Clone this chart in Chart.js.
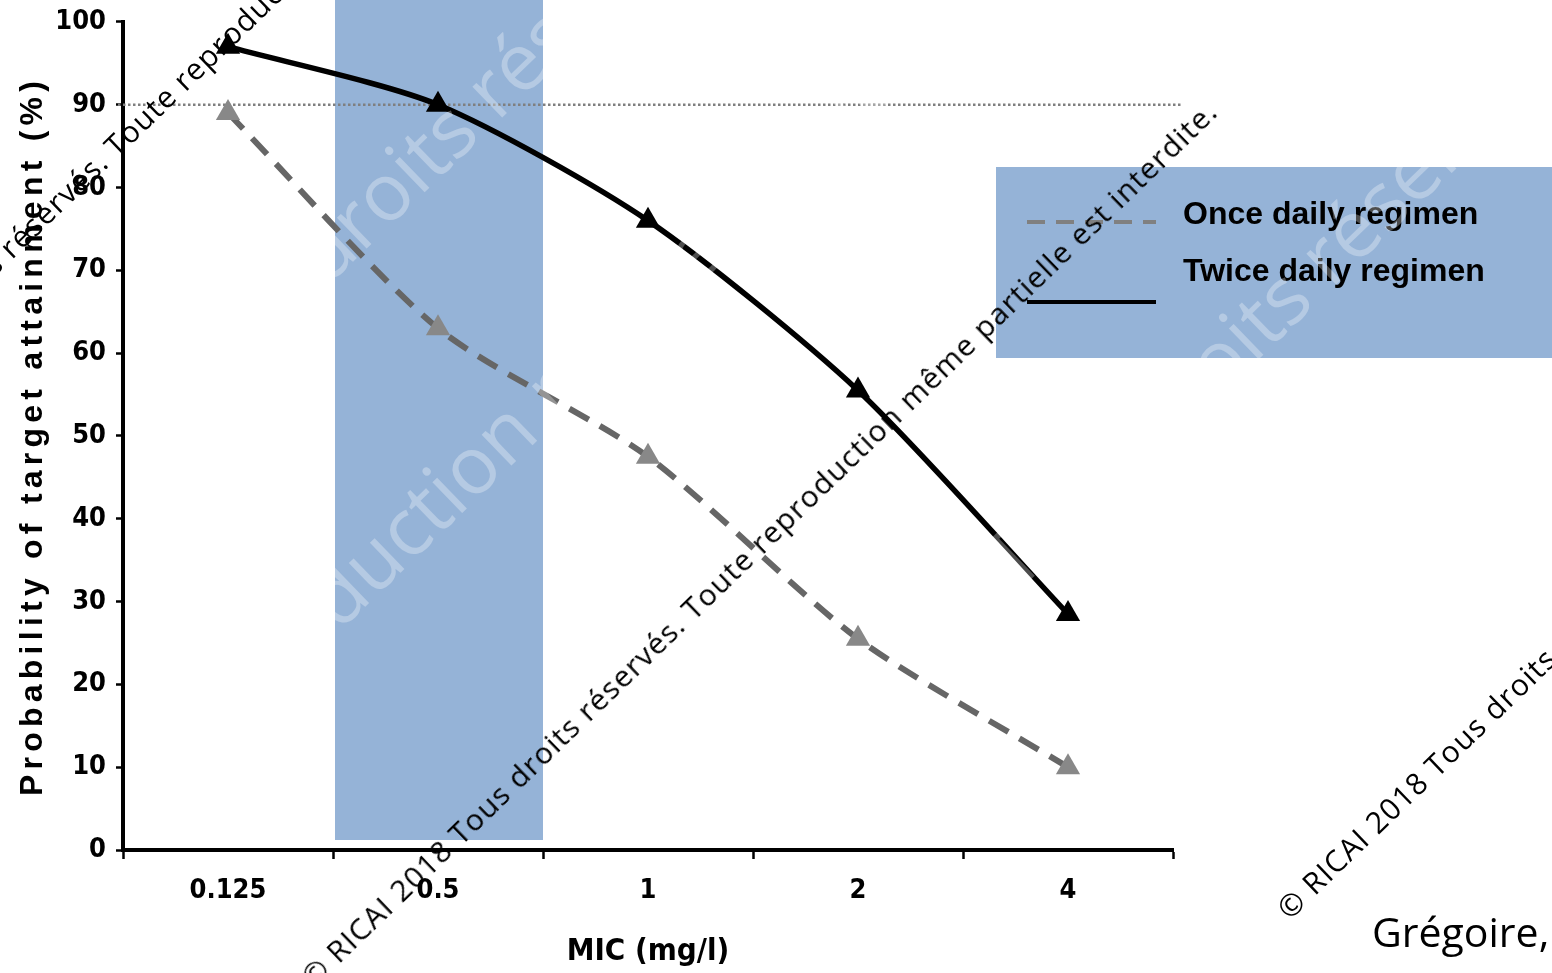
<!DOCTYPE html>
<html lang="en">
<head>
    <meta charset="UTF-8" />
    <title>Probability of target attainment</title>
    <script src="https://cdn.jsdelivr.net/npm/chart.js"></script>
    <style>
        html, body { margin: 0; padding: 0; background: #fff; overflow: hidden; }
        #wrap { position: relative; width: 1552px; height: 973px; overflow: hidden; }
        #wrap canvas { position: absolute; left: 0; top: 0; }
        .wm {
            position: absolute;
            font-family: "Open Sans", sans-serif;
            font-size: 30px;
            line-height: 30px;
            height: 30px;
            letter-spacing: 1.15px;
            color: #000;
            white-space: nowrap;
            transform-origin: 0 50%;
            transform: rotate(-44deg);
        }
        .ghost {
            position: absolute;
            font-family: "Open Sans", sans-serif;
            font-size: 80px;
            line-height: 80px;
            height: 80px;
            color: rgba(255, 255, 255, 0.3);
            white-space: nowrap;
            transform-origin: 0 50%;
            transform: rotate(-44deg);
        }
        #author {
            position: absolute;
            left: 1372px;
            top: 903px;
            font-family: "Open Sans", sans-serif;
            font-size: 41px;
            line-height: 56px;
            color: #000;
            white-space: nowrap;
        }
    </style>
</head>
<body>
    <div id="wrap">
        <canvas id="mainChart" width="1552" height="973"></canvas>
        <div class="ghost" style="left:161px; top:364px;">Tous droits réservés</div>
        <div class="ghost" style="left:168px; top:714px;">reproduction même partielle</div>
        <div class="ghost" style="left:995px; top:531px;">Tous droits réservés</div>
        <div class="wm" style="left:-271px; top:503px;">© RICAI 2018 Tous droits réservés. Toute reproduction même partielle est interdite.</div>
        <div class="wm" style="left:306px; top:966px;">© RICAI 2018 Tous droits réservés. Toute reproduction même partielle est interdite.</div>
        <div class="wm" style="left:1282px; top:898px;">© RICAI 2018 Tous droits réservés. Toute reproduction même partielle est interdite.</div>
        <div id="author">Grégoire,</div>
    </div>

    <script>
        const categories = ['0.125', '0.5', '1', '2', '4'];
        const onceDaily = [89, 63, 47.5, 25.5, 10];
        const twiceDaily = [97, 90, 76, 55.5, 28.5];
        const yMin = 0;
        const yMax = 100;
        const yStep = 10;
        const targetLevel = 90;
        const highlightCategory = '0.5';
        const yTitle = 'Probability of target attainment (%)';
        const xTitle = 'MIC (mg/l)';

        const BAND_BLUE = '#95B3D7';
        const narrow = "'DejaVu Sans Condensed', 'Arial Narrow', sans-serif";
        const xTickFont = { family: narrow, size: 27, weight: 'bold' };
        // tighter line height so the 100 label doesn't push the plot down
        const yTickFont = { family: narrow, size: 27, weight: 'bold', lineHeight: 0.88 };

        // shaded column behind the chosen MIC + dotted target line
        const bandPlugin = {
            id: 'band',
            beforeDatasetsDraw(chart) {
                const ctx = chart.ctx;
                const x = chart.scales.x;
                const y = chart.scales.y;
                const idx = categories.indexOf(highlightCategory);
                const half = (x.getPixelForValue(1) - x.getPixelForValue(0)) / 2;
                const cx = x.getPixelForValue(idx);
                ctx.save();
                ctx.fillStyle = BAND_BLUE;
                ctx.fillRect(cx - half + 2, 0, half * 2 - 2, y.getPixelForValue(yMin) - 10);

                const ty = y.getPixelForValue(targetLevel);
                ctx.strokeStyle = '#7f7f7f';
                ctx.lineWidth = 2.5;
                ctx.setLineDash([2.5, 2.5]);
                ctx.beginPath();
                ctx.moveTo(x.left - 5, ty);
                ctx.lineTo(x.right + 10, ty);
                ctx.stroke();
                ctx.restore();
            }
        };

        // y title with wide letter spacing, drawn by hand
        const yTitlePlugin = {
            id: 'yTitle',
            afterDraw(chart) {
                const ctx = chart.ctx;
                const y = chart.scales.y;
                ctx.save();
                ctx.font = "bold 32px 'Liberation Sans', Arial, sans-serif";
                const plain = ctx.measureText(yTitle).width;
                ctx.letterSpacing = Math.max(0, (715 - plain) / (yTitle.length - 1)).toFixed(2) + 'px';
                ctx.translate(33, (y.top + y.bottom) / 2);
                ctx.rotate(-Math.PI / 2);
                ctx.fillStyle = '#000';
                ctx.textAlign = 'center';
                ctx.textBaseline = 'middle';
                ctx.fillText(yTitle, 0, 0);
                ctx.restore();
            }
        };

        // boxed legend at the right
        const legendPlugin = {
            id: 'boxLegend',
            afterDraw(chart) {
                const ctx = chart.ctx;
                const ds = chart.data.datasets;
                ctx.save();
                ctx.fillStyle = BAND_BLUE;
                ctx.fillRect(996, 167, 556, 191);

                ctx.lineWidth = 4;
                ctx.strokeStyle = '#808080';
                ctx.setLineDash([18, 11]);
                ctx.beginPath();
                ctx.moveTo(1027, 222);
                ctx.lineTo(1156, 222);
                ctx.stroke();

                ctx.strokeStyle = '#000';
                ctx.setLineDash([]);
                ctx.beginPath();
                ctx.moveTo(1027, 302);
                ctx.lineTo(1156, 302);
                ctx.stroke();

                ctx.fillStyle = '#000';
                ctx.font = "bold 32px 'Liberation Sans', Arial, sans-serif";
                ctx.textBaseline = 'middle';
                ctx.fillText(ds[0].label, 1183, 215);
                ctx.fillText(ds[1].label, 1183, 272);
                ctx.restore();
            }
        };

        const ctx = document.getElementById('mainChart').getContext('2d');
        const chart = new Chart(ctx, {
            type: 'line',
            data: {
                labels: categories,
                datasets: [{
                    label: 'Once daily regimen',
                    data: onceDaily,
                    borderColor: '#666666',
                    borderWidth: 6,
                    borderDash: [22, 13],
                    tension: 0.25,
                    pointStyle: 'triangle',
                    pointRadius: 14,
                    pointBackgroundColor: '#888888',
                    pointBorderWidth: 0,
                    order: 2
                }, {
                    label: 'Twice daily regimen',
                    data: twiceDaily,
                    borderColor: '#000000',
                    borderWidth: 5.5,
                    tension: 0.25,
                    pointStyle: 'triangle',
                    pointRadius: 14,
                    pointBackgroundColor: '#000000',
                    pointBorderWidth: 0,
                    order: 1
                }]
            },
            options: {
                responsive: false,
                animation: false,
                layout: { padding: { top: 12, right: 379, bottom: 0, left: 0 } },
                plugins: {
                    legend: { display: false },
                    tooltip: { enabled: false }
                },
                scales: {
                    x: {
                        offset: true,
                        afterFit: (s) => { s.height = 123; },
                        border: { color: '#000', width: 4 },
                        grid: { offset: true, drawOnChartArea: false, tickLength: 9, tickColor: '#000', tickWidth: 2.5 },
                        ticks: { color: '#000', font: xTickFont, padding: 16 },
                        title: {
                            display: true,
                            text: xTitle,
                            color: '#000',
                            font: { family: narrow, size: 31, weight: 'bold' },
                            padding: { top: 0, bottom: 2 }
                        }
                    },
                    y: {
                        min: yMin,
                        max: yMax,
                        afterFit: (s) => { s.width = 123; },
                        border: { color: '#000', width: 4 },
                        grid: { drawOnChartArea: false, tickLength: 7, tickColor: '#000', tickWidth: 2.5 },
                        ticks: { stepSize: yStep, color: '#000', font: yTickFont, padding: 10 },
                        title: { display: false }
                    }
                }
            },
            plugins: [bandPlugin, yTitlePlugin, legendPlugin]
        });
    </script>
</body>
</html>
